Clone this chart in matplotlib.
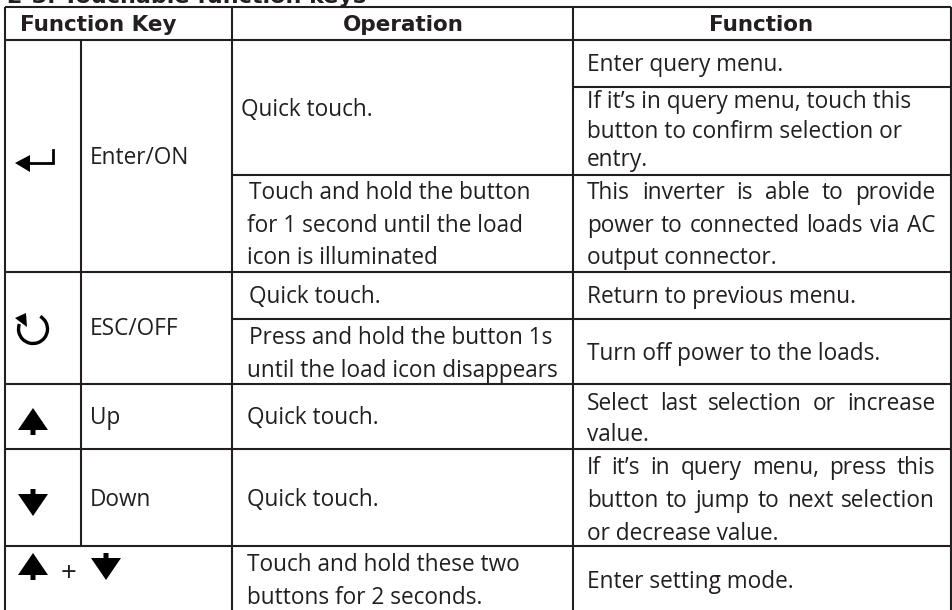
import matplotlib
matplotlib.use('Agg')
import matplotlib.pyplot as plt
from matplotlib.patches import Polygon, Arc

W = 952
H = 610

# (x0, x1, y)
h_lines = [(5, 951, 7), (5, 951, 40), (573, 951, 87), (232, 951, 175), (5, 951, 272),
           (232, 951, 319), (5, 951, 384), (5, 951, 449), (5, 951, 546)]
# (x, y0, y1)
v_lines = [(5, 7, 610), (81, 40, 546), (232, 7, 610), (573, 7, 610), (950.5, 7, 610)]

title = "2-3. Touchable function keys"
headers = ["Function Key", "Operation", "Function"]
header_x = [98, 403, 761]

keys = ["Enter/ON", "ESC/OFF", "Up", "Down"]
key_y = [158, 329, 418, 500]

operations = [
    ("Quick touch.", 241, 110),
    ("Touch and hold the button", 249, 193),
    ("for 1 second until the load", 247, 226),
    ("icon is illuminated", 247, 258),
    ("Quick touch.", 249, 297),
    ("Press and hold the button 1s", 249, 338),
    ("until the load icon disappears", 247, 371),
    ("Quick touch.", 247, 418),
    ("Quick touch.", 247, 500),
    ("Touch and hold these two", 247, 565),
    ("buttons for 2 seconds.", 247, 598),
]

# last item: line is justified out to the right margin
functions = [
    ("Enter query menu.", 65, False),
    ("If it\u2019s in query menu, touch this", 102, False),
    ("button to confirm selection or", 132, False),
    ("entry.", 160, False),
    ("This inverter is able to provide", 193, True),
    ("power to connected loads via AC", 226, True),
    ("output connector.", 258, False),
    ("Return to previous menu.", 297, False),
    ("Turn off power to the loads.", 354, False),
    ("Select last selection or increase", 404, True),
    ("value.", 435, False),
    ("If it\u2019s in query menu, press this", 468, True),
    ("button to jump to next selection", 501, True),
    ("or decrease value.", 534, False),
    ("Enter setting mode.", 582, False),
]

plt.rcParams['font.family'] = 'Open Sans'
ink = '#231f20'
body_size = 16.3
text_x = 587
text_right = 935

fig = plt.figure(figsize=(W / 100, H / 100), dpi=100)
ax = fig.add_axes([0, 0, 1, 1])
ax.set_xlim(0, W)
ax.set_ylim(H, 0)
ax.axis('off')

for x0, x1, y in h_lines:
    ax.plot([x0, x1], [y, y], color=ink, lw=1.5, solid_capstyle='butt')
for x, y0, y1 in v_lines:
    ax.plot([x, x], [y0, y1], color=ink, lw=1.5, solid_capstyle='butt')

ax.text(7, 3, title, fontsize=16, fontweight='bold', color=ink, va='baseline', family='DejaVu Sans')

for s, x in zip(headers, header_x):
    ax.text(x, 25, s, fontsize=15.5, fontweight='bold', color=ink, ha='center', va='center',
            family='DejaVu Sans')

body = dict(fontsize=body_size, color=ink, va='center')
for s, y in zip(keys, key_y):
    ax.text(90, y, s, **body)
for s, x, y in operations:
    ax.text(x, y, s, **body)

renderer = fig.canvas.get_renderer()


def justified(s, y):
    words = s.split(' ')
    items = [ax.text(text_x, y, w, **body) for w in words]
    widths = [t.get_window_extent(renderer).width for t in items]
    gap = (text_right - text_x - sum(widths)) / (len(words) - 1)
    x = text_x
    for t, w in zip(items, widths):
        t.set_x(x)
        x += w + gap


for s, y, just in functions:
    if just:
        justified(s, y)
    else:
        ax.text(text_x, y, s, **body)


def up_arrow(cx, tip):
    ax.add_patch(Polygon([(cx, tip), (cx + 15, tip + 22), (cx + 2.5, tip + 22), (cx + 2.5, tip + 27),
                          (cx - 2.5, tip + 27), (cx - 2.5, tip + 22), (cx - 15, tip + 22)], color='black', lw=0))


def down_arrow(cx, tail):
    ax.add_patch(Polygon([(cx - 2.5, tail), (cx + 2.5, tail), (cx + 2.5, tail + 5), (cx + 15, tail + 5),
                          (cx, tail + 27), (cx - 15, tail + 5), (cx - 2.5, tail + 5)], color='black', lw=0))


# enter key
ax.plot([53, 53, 28], [150, 163, 163], color='black', lw=2, solid_joinstyle='miter')
ax.add_patch(Polygon([(15, 163), (30, 155), (30, 172)], color='black', lw=0))

# esc key
ax.add_patch(Arc((33, 329), 29, 29, theta1=-60, theta2=200, color='black', lw=2.4))
ax.add_patch(Polygon([(15, 318), (26, 313), (27, 327)], color='black', lw=0))

up_arrow(33, 408)
down_arrow(33, 489)
up_arrow(33, 553)
ax.text(69, 574, "+", fontsize=20, color=ink, ha='center', va='center')
down_arrow(106, 553)

fig.savefig('out.png', dpi=100)
